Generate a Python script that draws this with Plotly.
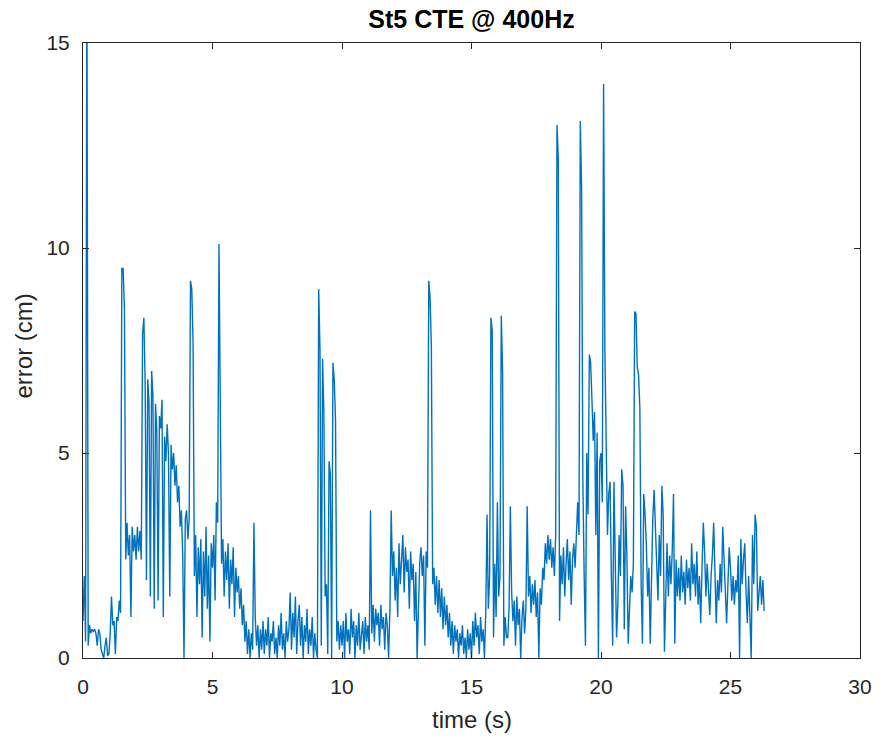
import numpy as np
import plotly.graph_objects as go

# Sample interval (s) of the digitised signal
dt = 0.05

# CTE error (cm), one row per second of the recording
error_s00 = [0.9, 2.0, 0.4, 17.0, 0.3, 0.8, 0.6, 0.7, 0.65, 0.7, 0.6, 0.3, 0.7, 0.6, 0.2, 0.1, 0.0, 0.3, 0.5, 0.05]
error_s01 = [0.1, 0.6, 1.5, 0.8, 0.9, 0.1, 1.0, 0.9, 1.4, 1.1, 9.5, 9.5, 8.5, 2.4, 3.3, 2.5, 3.0, 1.0, 3.2, 2.6]
error_s02 = [3.0, 2.4, 3.2, 2.6, 3.1, 2.4, 7.9, 8.3, 6.7, 1.9, 6.8, 6.2, 1.5, 7.0, 6.4, 1.2, 6.2, 5.5, 1.4, 5.9]
error_s03 = [5.6, 6.3, 1.0, 5.4, 4.8, 5.7, 5.0, 1.5, 5.2, 4.6, 5.0, 4.2, 4.7, 3.8, 4.2, 3.2, 3.6, 2.5, 0.0, 3.4]
error_s04 = [3.6, 2.9, 3.4, 9.2, 9.0, 7.7, 2.0, 3.0, 1.0, 2.7, 1.8, 2.9, 0.5, 2.6, 1.5, 3.2, 1.2, 2.5, 0.4, 2.8]
error_s05 = [2.2, 3.0, 1.4, 3.8, 3.3, 10.1, 6.5, 2.3, 2.9, 1.5, 2.6, 1.9, 2.8, 1.2, 2.4, 1.8, 2.7, 1.0, 2.2, 1.6]
error_s06 = [2.0, 1.2, 1.7, 0.8, 1.3, 0.4, 0.9, 0.1, 0.7, 0.0, 0.6, 0.2, 3.3, 1.0, 0.3, 0.8, 0.0, 0.7, 0.2, 0.9]
error_s07 = [0.1, 0.7, 0.3, 1.0, 0.0, 0.6, 0.4, 0.9, 0.1, 0.5, 0.0, 0.8, 0.3, 1.1, 0.2, 0.6, 0.0, 0.9, 0.4, 0.7]
error_s08 = [1.6, 0.2, 1.1, 0.5, 1.5, 0.1, 0.9, 1.3, 0.3, 1.0, 0.0, 0.8, 0.4, 1.2, 0.1, 0.7, 0.3, 1.0, 0.0, 0.6]
error_s09 = [0.2, 0.0, 9.0, 7.5, 0.3, 7.3, 6.0, 1.5, 1.8, 0.1, 4.8, 4.5, 0.0, 7.2, 6.8, 5.8, 0.4, 0.9, 0.2, 0.8]
error_s10 = [0.3, 0.9, 0.0, 1.1, 0.4, 0.7, 0.1, 1.2, 0.5, 0.9, 0.0, 0.8, 0.3, 1.1, 0.2, 0.6, 0.9, 0.1, 1.0, 0.4]
error_s11 = [0.8, 0.2, 3.6, 0.6, 1.3, 0.4, 1.2, 0.8, 1.1, 0.3, 1.3, 0.7, 1.0, 0.2, 1.1, 0.8, 0.0, 1.2, 3.6, 2.0]
error_s12 = [2.6, 1.4, 2.2, 1.0, 2.8, 1.8, 2.5, 3.0, 1.6, 2.7, 2.1, 2.4, 1.2, 2.6, 1.9, 2.3, 0.9, 2.1, 0.0, 1.5]
error_s13 = [2.3, 2.7, 2.0, 2.5, 0.3, 2.6, 2.2, 9.2, 8.8, 7.6, 1.8, 2.2, 1.3, 2.0, 1.1, 1.9, 1.0, 1.7, 0.7, 1.5]
error_s14 = [0.8, 1.3, 0.5, 1.1, 0.3, 0.9, 0.1, 0.8, 0.4, 0.7, 0.0, 0.6, 0.3, 0.8, 0.1, 0.5, 0.0, 0.7, 0.2, 0.6]
error_s15 = [0.0, 0.9, 0.3, 1.1, 0.5, 0.8, 0.1, 1.0, 0.4, 0.7, 0.0, 1.1, 3.5, 1.2, 2.0, 8.3, 8.0, 0.5, 2.3, 1.0]
error_s16 = [3.8, 1.5, 2.0, 8.35, 7.0, 0.3, 1.0, 0.5, 0.5, 1.2, 3.7, 1.6, 0.9, 1.4, 0.3, 1.5, 0.8, 1.2, 0.0, 1.0]
error_s17 = [1.4, 0.6, 1.2, 3.7, 1.5, 2.0, 1.1, 1.8, 1.3, 1.9, 1.0, 1.6, 0.0, 1.7, 1.3, 2.2, 1.9, 2.8, 2.3, 3.0]
error_s18 = [2.4, 2.9, 2.2, 2.7, 2.0, 3.0, 13.0, 12.2, 0.9, 2.5, 1.8, 2.7, 1.5, 2.3, 2.9, 1.9, 2.6, 1.3, 2.4, 2.8]
error_s19 = [2.2, 3.0, 3.8, 3.0, 13.1, 11.5, 4.3, 2.0, 0.3, 5.0, 3.5, 7.4, 7.2, 6.3, 5.3, 6.0, 3.0, 5.5, 0.0, 4.8]
error_s20 = [5.0, 3.8, 14.0, 7.5, 5.2, 3.0, 4.0, 4.3, 2.0, 0.3, 4.3, 2.2, 0.5, 1.3, 3.0, 2.0, 4.6, 4.2, 0.7, 3.7]
error_s21 = [2.5, 0.35, 1.5, 2.0, 1.6, 2.3, 8.45, 8.4, 7.1, 6.9, 6.1, 1.8, 0.35, 4.0, 3.5, 2.8, 1.5, 2.2, 0.35, 2.0]
error_s22 = [3.4, 4.1, 3.0, 2.3, 1.4, 3.0, 2.0, 4.2, 3.5, 0.15, 2.0, 2.8, 1.5, 2.5, 1.8, 2.6, 4.0, 0.35, 2.4, 1.5]
error_s23 = [2.2, 1.4, 2.5, 1.6, 2.1, 1.3, 2.4, 1.7, 2.2, 1.4, 2.8, 1.8, 2.3, 1.5, 2.6, 1.3, 2.0, 0.85, 2.2, 3.3]
error_s24 = [2.6, 1.5, 2.3, 1.8, 1.05, 2.0, 2.5, 3.3, 2.2, 0.85, 1.9, 1.4, 2.3, 1.6, 3.2, 2.4, 1.5, 0.85, 1.8, 2.7]
error_s25 = [2.2, 1.4, 2.0, 1.3, 1.9, 1.6, 2.5, 0.0, 2.9, 1.8, 2.4, 2.8, 1.6, 0.85, 2.0, 1.2, 0.0, 3.0, 1.8, 3.5]
error_s26 = [3.2, 1.15, 1.5, 2.0, 1.3, 1.9, 1.15]

x_ticks = [0, 5, 10, 15, 20, 25, 30]
y_ticks = [0, 5, 10, 15]

error_cm = (error_s00 + error_s01 + error_s02 + error_s03 + error_s04 + error_s05 +
            error_s06 + error_s07 + error_s08 + error_s09 + error_s10 + error_s11 +
            error_s12 + error_s13 + error_s14 + error_s15 + error_s16 + error_s17 +
            error_s18 + error_s19 + error_s20 + error_s21 + error_s22 + error_s23 +
            error_s24 + error_s25 + error_s26)
time_s = np.arange(len(error_cm)) * dt

axis_col = "#262626"
font_fam = "Liberation Sans, Arial, Helvetica, sans-serif"

fig = go.Figure(go.Scatter(x=time_s, y=error_cm, mode="lines",
                           line=dict(color="#0072BD", width=1.4),
                           showlegend=False))

common = dict(showline=True, linecolor=axis_col, linewidth=1, mirror="ticks",
              ticks="inside", ticklen=6, tickcolor=axis_col, tickwidth=1,
              showgrid=False, zeroline=False,
              tickfont=dict(family=font_fam, size=21, color=axis_col))

fig.update_xaxes(range=[0, 30], tickvals=x_ticks, ticklabelstandoff=10, **common)
fig.update_yaxes(range=[0, 15], tickvals=y_ticks, ticklabelstandoff=8, **common)

fig.update_layout(
    width=884, height=742,
    margin=dict(l=83, r=22, t=43, b=84),
    paper_bgcolor="white", plot_bgcolor="white",
    title=dict(text="<b>St5 CTE @ 400Hz</b>", x=0.5, xanchor="center",
               xref="paper", yref="container", y=1 - 19.5 / 742, yanchor="middle",
               font=dict(family=font_fam, size=25, color="black")),
    annotations=[
        dict(text="time (s)", xref="paper", yref="paper", x=0.5, y=0,
             xanchor="center", yanchor="middle", yshift=-61, showarrow=False,
             font=dict(family=font_fam, size=24, color=axis_col)),
        dict(text="error (cm)", xref="paper", yref="paper", x=0, y=0.5,
             xanchor="center", yanchor="middle", xshift=-60, yshift=4,
             textangle=-90, showarrow=False,
             font=dict(family=font_fam, size=24, color=axis_col)),
    ],
)

fig.write_html("out.html", config={"displayModeBar": False},
               post_script="document.body.style.margin='0px';document.body.style.overflow='hidden';")
